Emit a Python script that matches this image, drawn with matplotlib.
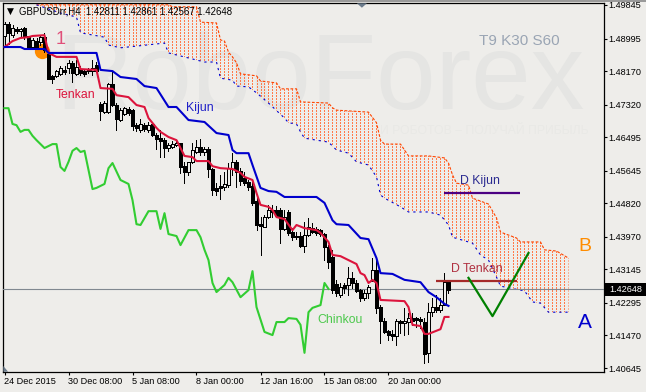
import matplotlib
matplotlib.use('Agg')
import matplotlib.pyplot as plt
from matplotlib.patches import Polygon, Rectangle

W, H = 646, 392
BG = '#EEEDEA'

plt.rcParams['font.family'] = ['Liberation Sans', 'DejaVu Sans']

# candles, prices in 1/10000
highs = [14941, 14941, 14934, 14929, 14926, 14929, 14906, 14901, 14901, 14906, 14914, 14865, 14807, 14820, 14830, 14830,
         14845, 14843, 14845, 14830, 14820, 14825, 14845, 14840, 14739, 14741, 14787, 14815, 14736, 14724, 14726, 14726,
         14721, 14686, 14696, 14686, 14688, 14686, 14660, 14668, 14647, 14635, 14640, 14640, 14635, 14587, 14587, 14635,
         14642, 14645, 14625, 14625, 14571, 14533, 14554, 14561, 14584, 14609, 14592, 14571, 14561, 14541, 14536, 14495,
         14447, 14452, 14478, 14478, 14475, 14470, 14465, 14465, 14419, 14409, 14409, 14435, 14445, 14432, 14422, 14417,
         14407, 14376, 14364, 14288, 14280, 14280, 14321, 14308, 14288, 14265, 14262, 14275, 14343, 14343, 14224, 14191,
         14161, 14161, 14189, 14186, 14217, 14204, 14204, 14194, 14194, 14191, 14229, 14242, 14250, 14242, 14305, 14285]
lows = [14883, 14886, 14903, 14914, 14906, 14898, 14873, 14876, 14873, 14883, 14865, 14797, 14787, 14802, 14807, 14810,
        14812, 14789, 14807, 14807, 14805, 14812, 14807, 14815, 14693, 14711, 14711, 14729, 14668, 14691, 14706, 14706,
        14668, 14665, 14663, 14665, 14663, 14653, 14620, 14599, 14599, 14615, 14622, 14627, 14559, 14533, 14554, 14584,
        14609, 14604, 14604, 14549, 14503, 14503, 14493, 14516, 14523, 14554, 14523, 14528, 14528, 14516, 14478, 14414,
        14351, 14422, 14445, 14447, 14447, 14381, 14414, 14402, 14389, 14391, 14371, 14359, 14399, 14407, 14402, 14399,
        14338, 14318, 14255, 14247, 14245, 14255, 14250, 14267, 14257, 14234, 14237, 14242, 14285, 14204, 14128, 14153,
        14135, 14135, 14123, 14153, 14148, 14151, 14174, 14169, 14166, 14077, 14080, 14196, 14206, 14206, 14224, 14255]
opens = [14906, 14936, 14908, 14924, 14919, 14926, 14906, 14878, 14893, 14891, 14903, 14860, 14805, 14805, 14810, 14820,
         14825, 14838, 14810, 14822, 14817, 14817, 14817, 14833, 14734, 14713, 14713, 14784, 14731, 14693, 14708, 14721,
         14718, 14680, 14668, 14680, 14668, 14683, 14655, 14647, 14642, 14622, 14625, 14630, 14635, 14577, 14561, 14587,
         14612, 14625, 14612, 14620, 14569, 14521, 14526, 14523, 14528, 14569, 14587, 14564, 14546, 14536, 14526, 14488,
         14430, 14422, 14447, 14465, 14465, 14465, 14417, 14460, 14409, 14399, 14399, 14374, 14402, 14419, 14417, 14414,
         14404, 14371, 14346, 14277, 14250, 14275, 14275, 14293, 14280, 14262, 14242, 14255, 14285, 14313, 14219, 14184,
         14158, 14151, 14146, 14184, 14179, 14181, 14191, 14191, 14189, 14181, 14103, 14206, 14219, 14211, 14224, 14282]
closes = [14936, 14914, 14926, 14919, 14924, 14906, 14876, 14896, 14878, 14903, 14871, 14797, 14797, 14817, 14825, 14815,
          14838, 14812, 14827, 14812, 14810, 14820, 14825, 14817, 14716, 14736, 14784, 14731, 14696, 14718, 14723, 14711,
          14678, 14673, 14683, 14670, 14680, 14655, 14645, 14640, 14622, 14630, 14632, 14635, 14574, 14561, 14587, 14617,
          14625, 14612, 14620, 14569, 14516, 14513, 14521, 14531, 14571, 14587, 14561, 14538, 14533, 14523, 14483, 14427,
          14424, 14447, 14465, 14460, 14450, 14417, 14447, 14407, 14397, 14397, 14374, 14402, 14422, 14409, 14407, 14404,
          14371, 14333, 14262, 14255, 14270, 14267, 14293, 14280, 14260, 14242, 14255, 14270, 14313, 14217, 14184, 14156,
          14148, 14146, 14184, 14179, 14184, 14191, 14184, 14186, 14184, 14100, 14206, 14219, 14211, 14224, 14282, 14262]

tenkan_bars = [0, 2, 4, 6, 7, 10, 11, 13, 18, 19, 23, 24, 27, 28, 31, 33, 35, 36, 38, 39, 41, 43, 45, 47, 48, 51, 52, 54,
               57, 59, 60, 62, 63, 64, 66, 67, 68, 70, 72, 73, 75, 78, 79, 81, 82, 84, 86, 88, 89, 90, 91, 92, 93, 94,
               100, 101, 102, 104, 105, 106, 109, 110, 111]
tenkan = [14878, 14893, 14901, 14903, 14906, 14908, 14863, 14853, 14853, 14822, 14820, 14774, 14772, 14756, 14751, 14731,
          14726, 14698, 14673, 14663, 14650, 14642, 14602, 14599, 14589, 14589, 14576, 14571, 14569, 14559, 14549, 14541,
          14508, 14478, 14473, 14465, 14447, 14442, 14414, 14427, 14419, 14414, 14407, 14384, 14351, 14348, 14338, 14328,
          14305, 14300, 14280, 14288, 14280, 14237, 14234, 14219, 14174, 14171, 14151, 14151, 14163, 14194, 14194]

kijun_bars = [0, 4, 5, 10, 11, 23, 24, 27, 29, 33, 35, 38, 41, 43, 46, 50, 53, 56, 57, 58, 61, 62, 64, 66, 68, 70, 78, 80,
              82, 83, 86, 89, 91, 93, 94, 97, 100, 104, 106, 108, 110, 111]
kijun = [14878, 14878, 14873, 14873, 14863, 14863, 14820, 14817, 14802, 14797, 14779, 14774, 14726, 14726, 14693, 14688,
         14660, 14655, 14617, 14609, 14609, 14579, 14521, 14513, 14511, 14498, 14498, 14483, 14439, 14429, 14427, 14394,
         14391, 14343, 14305, 14303, 14288, 14282, 14257, 14244, 14227, 14222]

chinkou_bars = [0, 1, 2, 3, 4, 5, 6, 7, 8, 10, 12, 13, 14, 15, 16, 17, 18, 19, 20, 22, 23, 25, 26, 27, 29, 31, 32, 33, 34,
                36, 38, 39, 40, 41, 43, 44, 46, 48, 49, 50, 51, 52, 53, 55, 56, 57, 59, 61, 62, 63, 65, 67, 68, 70, 71,
                73, 74, 75, 76, 77, 79, 80, 81]
chinkou = [14723, 14723, 14683, 14680, 14663, 14668, 14668, 14653, 14642, 14622, 14632, 14632, 14574, 14564, 14587, 14615,
           14622, 14612, 14615, 14518, 14521, 14531, 14571, 14584, 14541, 14531, 14490, 14429, 14427, 14462, 14462, 14417,
           14457, 14404, 14399, 14376, 14414, 14414, 14396, 14364, 14338, 14280, 14257, 14275, 14293, 14282, 14244, 14262,
           14310, 14219, 14156, 14148, 14181, 14181, 14191, 14189, 14174, 14103, 14206, 14217, 14224, 14280, 14265]

senkou_b_bars = [8, 41, 42, 48, 49, 53, 54, 55, 56, 57, 58, 59, 63, 64, 68, 69, 73, 74, 81, 82, 83, 91, 93, 94, 95, 99,
                 101, 106, 110, 111, 112, 113, 116, 117, 121, 123, 124, 128, 129, 134, 135, 138, 141]
senkou_b = [14985, 14985, 14980, 14980, 14941, 14939, 14896, 14893, 14865, 14853, 14838, 14810, 14805, 14792, 14787, 14772,
            14772, 14739, 14736, 14724, 14718, 14713, 14686, 14642, 14632, 14632, 14602, 14602, 14597, 14584, 14554, 14533,
            14528, 14495, 14480, 14445, 14409, 14394, 14384, 14384, 14364, 14361, 14343]
senkou_a_bars = [8, 14, 18, 19, 25, 26, 29, 40, 41, 50, 53, 54, 57, 58, 61, 63, 66, 70, 71, 73, 74, 75, 81, 83, 86, 88, 91,
                 93, 94, 95, 99, 101, 106, 109, 111, 112, 117, 119, 121, 123, 124, 130, 132, 134, 136, 141]
senkou_a = [14985, 14964, 14954, 14914, 14903, 14883, 14876, 14888, 14863, 14840, 14840, 14799, 14794, 14779, 14777, 14762,
            14736, 14698, 14686, 14683, 14663, 14647, 14637, 14617, 14609, 14587, 14579, 14549, 14503, 14495, 14473, 14460,
            14460, 14452, 14427, 14396, 14381, 14351, 14338, 14295, 14272, 14260, 14232, 14229, 14206, 14206]

d_kijun_bars = [110, 129]
d_kijun = [14509, 14509]
d_tenkan_bars = [108, 128]
d_tenkan = [14285, 14285]
v_bars = [116, 122, 131]
v_prices = [14293, 14196, 14356]
mark_bar = [9.5]
mark_price = [14868]

last_price = 1.42648
y_ticks = [1.49845, 1.48995, 1.48170, 1.47320, 1.46495, 1.45645, 1.44820, 1.43970, 1.43145, 1.42295, 1.41470, 1.40645]
x_ticks = [0, 16, 32, 48, 64, 80, 96]
x_labels = ['24 Dec 2015', '30 Dec 08:00', '5 Jan 08:00', '8 Jan 00:00', '12 Jan 16:00', '15 Jan 08:00', '20 Jan 00:00']


def p(values):
    return [v / 10000 for v in values]


def label(x, y, s, **kw):
    # x, y in image pixels
    fig.text(x / W, 1 - y / H, s, va='center', **kw)


def back_label(x, y, s, **kw):
    # same, but inside the axes so it stays under the candles
    ax.text(x / W, 1 - y / H, s, va='center', transform=fig.transFigure, zorder=1, clip_on=False, **kw)


fig = plt.figure(figsize=(W / 100, H / 100), dpi=100, facecolor=BG)
ax = fig.add_axes([3.3 / W, (H - 371.7) / H, 600.4 / W, 368.4 / H], facecolor=BG)
ax.set_xlim(-0.3, 149.8)
ax.set_ylim(1.40552, 1.49888)

# top edge of the window
fig.add_artist(Rectangle((0, 1 - 1.5 / H), 1, 1.5 / H, transform=fig.transFigure, color='#9A9A9A', lw=0))

# watermark
back_label(55, 81, 'RoboForex', fontsize=77, color='#E5E5E3')
back_label(380, 131, 'И РОБОТОВ – ПОЛУЧАЙ ПРИБЫЛЬ', fontsize=8.8, color='#E9E9E6')

# cloud hatch, columns clipped to the area between the two spans
cloud_pts = list(zip(senkou_b_bars, p(senkou_b))) + list(zip(senkou_a_bars, p(senkou_a)))[::-1]
cloud = Polygon(cloud_pts, closed=True, transform=ax.transData, fill=False, edgecolor='none')
ax.add_patch(cloud)
hatch = ax.vlines(range(8, 142), 1.40552, 1.49888, color='#FF7A4A', lw=0.72, linestyles=(0, (2, 2)), zorder=2,
                  antialiased=False)
hatch.set_clip_path(cloud)
ax.plot(senkou_b_bars, p(senkou_b), color='#FF4500', lw=0.8, ls=(0, (2.5, 1.5)), zorder=3)
ax.plot(senkou_a_bars, p(senkou_a), color='#0000CD', lw=0.8, ls=(0, (2, 3.5)), zorder=3)

ax.axhline(last_price, color='#808890', lw=0.8, zorder=3)
ax.plot(mark_bar, p(mark_price), 'o', ms=11, color='#FF8C00', mew=0, zorder=3)

# candles
bars = range(len(opens))
ax.vlines(bars, p(lows), p(highs), color='black', lw=0.72, zorder=4, antialiased=False)
for i in bars:
    low, high = sorted([opens[i], closes[i]])
    up = closes[i] > opens[i]
    ax.bar(i, (high - low) / 10000, bottom=low / 10000, width=0.55, color=BG if up else 'black',
           edgecolor='black', lw=0.72, zorder=5, antialiased=False)

ax.plot(tenkan_bars, p(tenkan), color='#DC143C', lw=1.5, zorder=6)
ax.plot(kijun_bars, p(kijun), color='#0000CD', lw=1.5, zorder=6)
ax.plot(chinkou_bars, p(chinkou), color='#32CD32', lw=1.5, zorder=6)

ax.plot(d_kijun_bars, p(d_kijun), color='#4B0082', lw=1.6, solid_capstyle='butt', zorder=7)
ax.plot(d_tenkan_bars, p(d_tenkan), color='#A52A2A', lw=1.6, solid_capstyle='butt', zorder=7)
ax.plot(v_bars, p(v_prices), color='#008000', lw=1.6, zorder=7)

# grey corner marks
ax.add_patch(Polygon([(88.1, 1), (90.6, 1), (89.35, 0.988)], transform=ax.get_xaxis_transform(), color='#6B7B8C', lw=0,
                     zorder=8))
ax.add_patch(Polygon([(0, 0), (0.008, 0), (0, 0.0155)], transform=ax.transAxes, color='#6B7B8C', lw=0, zorder=8))

for s in ax.spines.values():
    s.set_linewidth(0.9)
ax.yaxis.tick_right()
ax.set_yticks(y_ticks, [f'{t:.5f}' for t in y_ticks])
ax.set_xticks(x_ticks, x_labels, ha='left')
ax.tick_params(axis='y', length=2.5, width=0.8, pad=1, labelsize=6.6)
ax.tick_params(axis='x', length=2.5, width=0.8, pad=1.5, labelsize=6.6)

# last price box
fig.add_artist(Rectangle((604.5 / W, 1 - 296 / H), 41.5 / W, 13 / H, transform=fig.transFigure, color='black', lw=0))
label(609, 289.5, f'{last_price:.5f}', fontsize=6.6, color='white')

# header
label(7, 11.5, '▼', fontsize=6.5, color='black', family='DejaVu Sans')
label(19, 11.5, 'GBPUSDrr,H4  1.42811 1.42861 1.42567 1.42648', fontsize=6.9, color='black')

label(479, 41, 'T9 K30 S60', fontsize=11, color='#9AA5B4')
label(56, 40, '1', fontsize=13, color='#E0507A')
label(56, 95, 'Tenkan', fontsize=8.8, color='#DC143C')
label(186, 107.5, 'Kijun', fontsize=8.8, color='#2020C8')
label(317, 320, 'Chinkou', fontsize=8.8, color='#4CC84C')
label(460, 181, 'D Kijun', fontsize=8.8, color='#2A2A90')
label(451, 269, 'D Tenkan', fontsize=8.8, color='#B03040')
label(578, 247, 'B', fontsize=14, color='#FF8C00')
label(578, 323, 'A', fontsize=15, color='#0000CD')

fig.savefig('out.png', dpi=100, facecolor=BG)
